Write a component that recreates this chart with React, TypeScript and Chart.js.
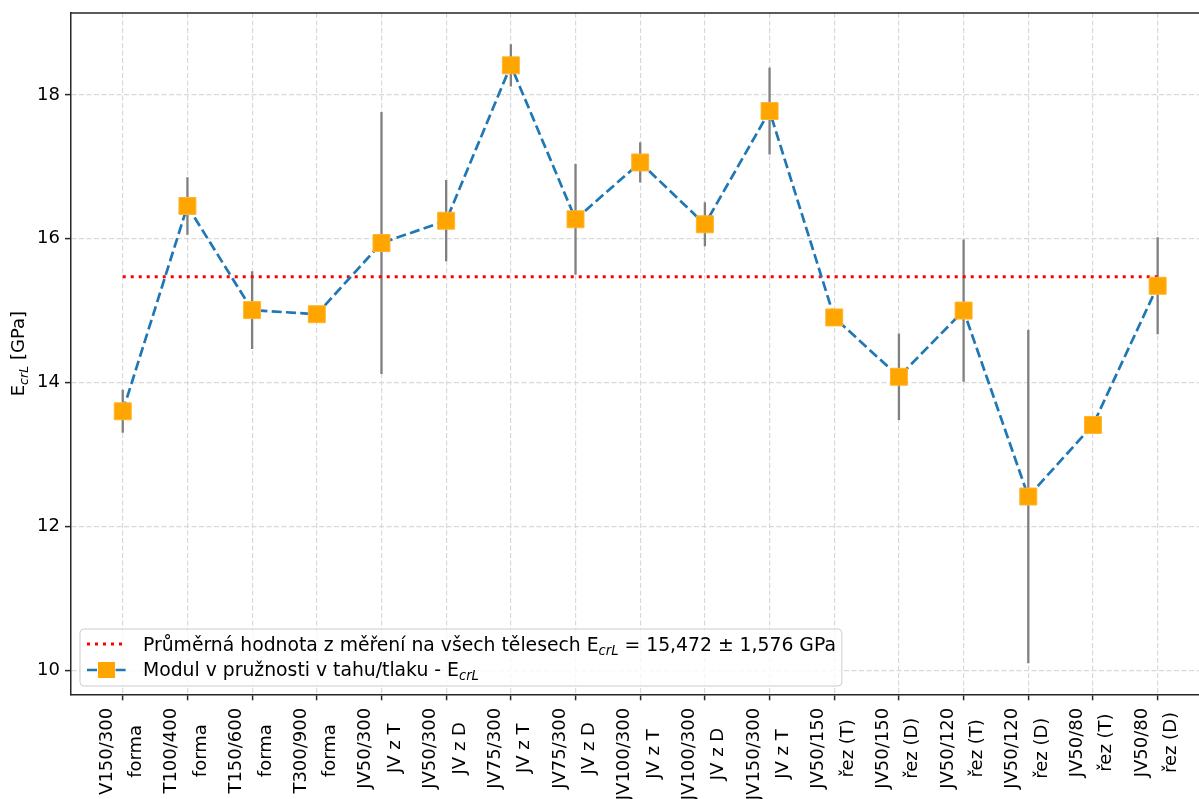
import React, { useEffect, useRef } from "react";
import { Chart, registerables } from "chart.js";

Chart.register(...registerables);

// ---------- data ----------
const categoryLines: string[][] = [
  ["V150/300", "forma"],
  ["T100/400", "forma"],
  ["T150/600", "forma"],
  ["T300/900", "forma"],
  ["JV50/300", "JV z T"],
  ["JV50/300", "JV z D"],
  ["JV75/300", "JV z T"],
  ["JV75/300", "JV z D"],
  ["JV100/300", "JV z T"],
  ["JV100/300", "JV z D"],
  ["JV150/300", "JV z T"],
  ["JV50/150", "řez (T)"],
  ["JV50/150", "řez (D)"],
  ["JV50/120", "řez (T)"],
  ["JV50/120", "řez (D)"],
  ["JV50/80", "řez (T)"],
  ["JV50/80", "řez (D)"],
];
const modulusValues: number[] = [
  13.6, 16.455, 15.007, 14.95, 15.94, 16.25, 18.41, 16.27, 17.06, 16.2, 17.775,
  14.905, 14.08, 15.0, 12.415, 13.41, 15.345,
];
const modulusErrors: number[] = [
  0.3, 0.4, 0.54, 0, 1.82, 0.565, 0.295, 0.77, 0.28, 0.305, 0.605, 0, 0.6,
  0.99, 2.32, 0, 0.675,
];
const meanValue = 15.472;
const yTickValues: number[] = [10, 12, 14, 16, 18];
const xMin = -0.8;
const xMax = 16.8;
const yMin = 9.665;
const yMax = 19.138;

const meanLegendMain = "Průměrná hodnota z měření na všech tělesech E";
const meanLegendTail = " = 15,472 ± 1,576 GPa";
const seriesLegendMain = "Modul v pružnosti v tahu/tlaku - E";
const subscriptText = "crL";
const yTitleMain = "E";
const yTitleTail = " [GPa]";

// ---------- layout / style ----------
const W = 1230;
const H = 830;
const FONT = "'DejaVu Sans', 'DejaVu Sans Book', sans-serif";
const FS = 18;
const LEGEND_FS = 18.8;
const SPINE = "#262626";
const AREA_LEFT = 71;
const AREA_TOP = 12.3;
const AREA_RIGHT = 1209.4;
const AREA_BOTTOM = 694.3;

type Part = { text: string; sub?: boolean };

function partsWidth(ctx: CanvasRenderingContext2D, parts: Part[], fs: number) {
  let w = 0;
  for (const p of parts) {
    ctx.font = p.sub ? `italic ${fs * 0.7}px ${FONT}` : `${fs}px ${FONT}`;
    w += ctx.measureText(p.text).width;
  }
  return w;
}

function drawParts(ctx: CanvasRenderingContext2D, x: number, y: number, parts: Part[], fs: number) {
  let cx = x;
  ctx.textAlign = "left";
  ctx.textBaseline = "alphabetic";
  for (const p of parts) {
    ctx.font = p.sub ? `italic ${fs * 0.7}px ${FONT}` : `${fs}px ${FONT}`;
    ctx.fillText(p.text, cx, y + (p.sub ? fs * 0.22 : 0));
    cx += ctx.measureText(p.text).width;
  }
}

const customPlugin = {
  id: "customDecor",
  beforeDatasetsDraw(chart: any) {
    const { ctx, chartArea } = chart;
    const xs = chart.scales.x;
    const ys = chart.scales.y;
    ctx.save();
    ctx.beginPath();
    ctx.rect(chartArea.left, chartArea.top, chartArea.right - chartArea.left, chartArea.bottom - chartArea.top);
    ctx.clip();
    ctx.strokeStyle = "#808080";
    ctx.lineWidth = 2.3;
    ctx.setLineDash([]);
    modulusValues.forEach((v, i) => {
      const e = modulusErrors[i];
      if (!e) return;
      const px = xs.getPixelForValue(i);
      ctx.beginPath();
      ctx.moveTo(px, ys.getPixelForValue(v - e));
      ctx.lineTo(px, ys.getPixelForValue(v + e));
      ctx.stroke();
    });
    ctx.restore();
  },
  afterDraw(chart: any) {
    const { ctx, chartArea } = chart;
    const xs = chart.scales.x;
    ctx.save();
    ctx.setLineDash([]);
    // top + right spines
    ctx.strokeStyle = SPINE;
    ctx.lineWidth = 1.5;
    ctx.beginPath();
    ctx.moveTo(chartArea.left - 0.75, chartArea.top);
    ctx.lineTo(chartArea.right, chartArea.top);
    ctx.lineTo(chartArea.right, chartArea.bottom);
    ctx.stroke();

    // x tick labels (rotated, lines centred as in the reference)
    ctx.fillStyle = "#000";
    ctx.font = `${FS}px ${FONT}`;
    const labelTop = chartArea.bottom + 13.5;
    const lineOffsets = [-11, 18.5];
    categoryLines.forEach((lines, i) => {
      const px = xs.getPixelForValue(i);
      const maxW = Math.max(...lines.map((l) => ctx.measureText(l).width));
      ctx.save();
      ctx.translate(px, labelTop);
      ctx.rotate(-Math.PI / 2);
      ctx.textAlign = "center";
      ctx.textBaseline = "alphabetic";
      lines.forEach((l, j) => {
        ctx.fillText(l, -maxW / 2, lineOffsets[j]);
      });
      ctx.restore();
    });

    // y axis title
    const titleParts: Part[] = [
      { text: yTitleMain },
      { text: subscriptText, sub: true },
      { text: yTitleTail },
    ];
    const tw = partsWidth(ctx, titleParts, FS);
    ctx.save();
    ctx.translate(24, (chartArea.top + chartArea.bottom) / 2);
    ctx.rotate(-Math.PI / 2);
    drawParts(ctx, -tw / 2, 0, titleParts, FS);
    ctx.restore();

    // legend
    const line1: Part[] = [
      { text: meanLegendMain },
      { text: subscriptText, sub: true },
      { text: meanLegendTail },
    ];
    const line2: Part[] = [
      { text: seriesLegendMain },
      { text: subscriptText, sub: true },
    ];
    const textX = 143;
    const w1 = partsWidth(ctx, line1, LEGEND_FS);
    const boxX = 80;
    const boxY = 629;
    const boxW = textX + w1 + 6 - boxX;
    const boxH = 57;
    ctx.beginPath();
    ctx.roundRect(boxX, boxY, boxW, boxH, 4);
    ctx.fillStyle = "rgba(255,255,255,0.8)";
    ctx.fill();
    ctx.strokeStyle = "#cccccc";
    ctx.lineWidth = 1;
    ctx.stroke();

    // sample 1: red dotted
    ctx.strokeStyle = "#ff0000";
    ctx.lineWidth = 3;
    ctx.setLineDash([3, 5]);
    ctx.beginPath();
    ctx.moveTo(87, 644);
    ctx.lineTo(126, 644);
    ctx.stroke();
    // sample 2: blue dashed with orange square
    ctx.strokeStyle = "#1f77b4";
    ctx.lineWidth = 2.7;
    ctx.setLineDash([10, 4.3]);
    ctx.beginPath();
    ctx.moveTo(87, 670);
    ctx.lineTo(126, 670);
    ctx.stroke();
    ctx.setLineDash([]);
    ctx.fillStyle = "#FFA500";
    ctx.fillRect(106.5 - 8.5, 670 - 8, 17, 16);

    ctx.fillStyle = "#000";
    drawParts(ctx, textX, 650.5, line1, LEGEND_FS);
    drawParts(ctx, textX, 676, line2, LEGEND_FS);
    ctx.restore();
  },
};

export default function App() {
  const canvasRef = useRef<HTMLCanvasElement | null>(null);

  useEffect(() => {
    const canvas = canvasRef.current;
    if (!canvas) return;
    const chart = new Chart(canvas, {
      type: "line",
      data: {
        datasets: [
          {
            label: "Modul v pružnosti v tahu/tlaku - EcrL",
            data: modulusValues.map((v, i) => ({ x: i, y: v })),
            borderColor: "#1f77b4",
            borderWidth: 2.7,
            borderDash: [10, 4.3],
            pointStyle: "rect",
            pointRadius: 12,
            pointHoverRadius: 12,
            pointBackgroundColor: "#FFA500",
            pointBorderColor: "#FFB52E",
            pointBorderWidth: 1,
            tension: 0,
            fill: false,
          },
          {
            label: "Průměrná hodnota",
            data: [
              { x: 0, y: meanValue },
              { x: categoryLines.length - 1, y: meanValue },
            ],
            borderColor: "#ff0000",
            borderWidth: 3,
            borderDash: [3, 5],
            pointRadius: 0,
            pointHoverRadius: 0,
            tension: 0,
            fill: false,
          },
        ],
      },
      options: {
        animation: false,
        responsive: false,
        devicePixelRatio: 1,
        events: [],
        layout: {
          padding: { left: 0, top: AREA_TOP, right: W - AREA_RIGHT, bottom: 0 },
        },
        plugins: {
          legend: { display: false },
          tooltip: { enabled: false },
          title: { display: false },
        },
        scales: {
          x: {
            type: "linear",
            position: "bottom",
            min: xMin,
            max: xMax,
            afterBuildTicks: (axis: any) => {
              axis.ticks = categoryLines.map((_, i) => ({ value: i }));
            },
            afterFit: (axis: any) => {
              axis.height = H - AREA_BOTTOM;
              axis.paddingLeft = 0;
              axis.paddingRight = 0;
            },
            ticks: { display: false, autoSkip: false },
            grid: {
              color: "#d9d9d9",
              lineWidth: 1.2,
              drawTicks: true,
              tickLength: 6,
              tickColor: SPINE,
              tickWidth: 1.5,
            },
            border: { display: true, color: SPINE, width: 1.5, dash: [5, 2.5] },
          },
          y: {
            type: "linear",
            position: "left",
            min: yMin,
            max: yMax,
            afterBuildTicks: (axis: any) => {
              axis.ticks = yTickValues.map((v) => ({ value: v }));
            },
            afterFit: (axis: any) => {
              axis.width = AREA_LEFT;
              axis.paddingTop = 0;
              axis.paddingBottom = 0;
            },
            ticks: {
              color: "#000",
              font: { family: FONT, size: FS },
              padding: 5,
              callback: (v: any) => String(v),
            },
            grid: {
              color: "#d9d9d9",
              lineWidth: 1.2,
              drawTicks: true,
              tickLength: 6,
              tickColor: SPINE,
              tickWidth: 1.5,
            },
            border: { display: true, color: SPINE, width: 1.5, dash: [5, 2.5] },
          },
        },
      },
      plugins: [customPlugin],
    } as any);
    return () => chart.destroy();
  }, []);

  return (
    <div
      style={{
        position: "fixed",
        left: 0,
        top: 0,
        width: 1199,
        height: 799,
        overflow: "hidden",
        background: "#ffffff",
      }}
    >
      <canvas
        ref={canvasRef}
        width={W}
        height={H}
        style={{ display: "block", width: W, height: H }}
      />
    </div>
  );
}
